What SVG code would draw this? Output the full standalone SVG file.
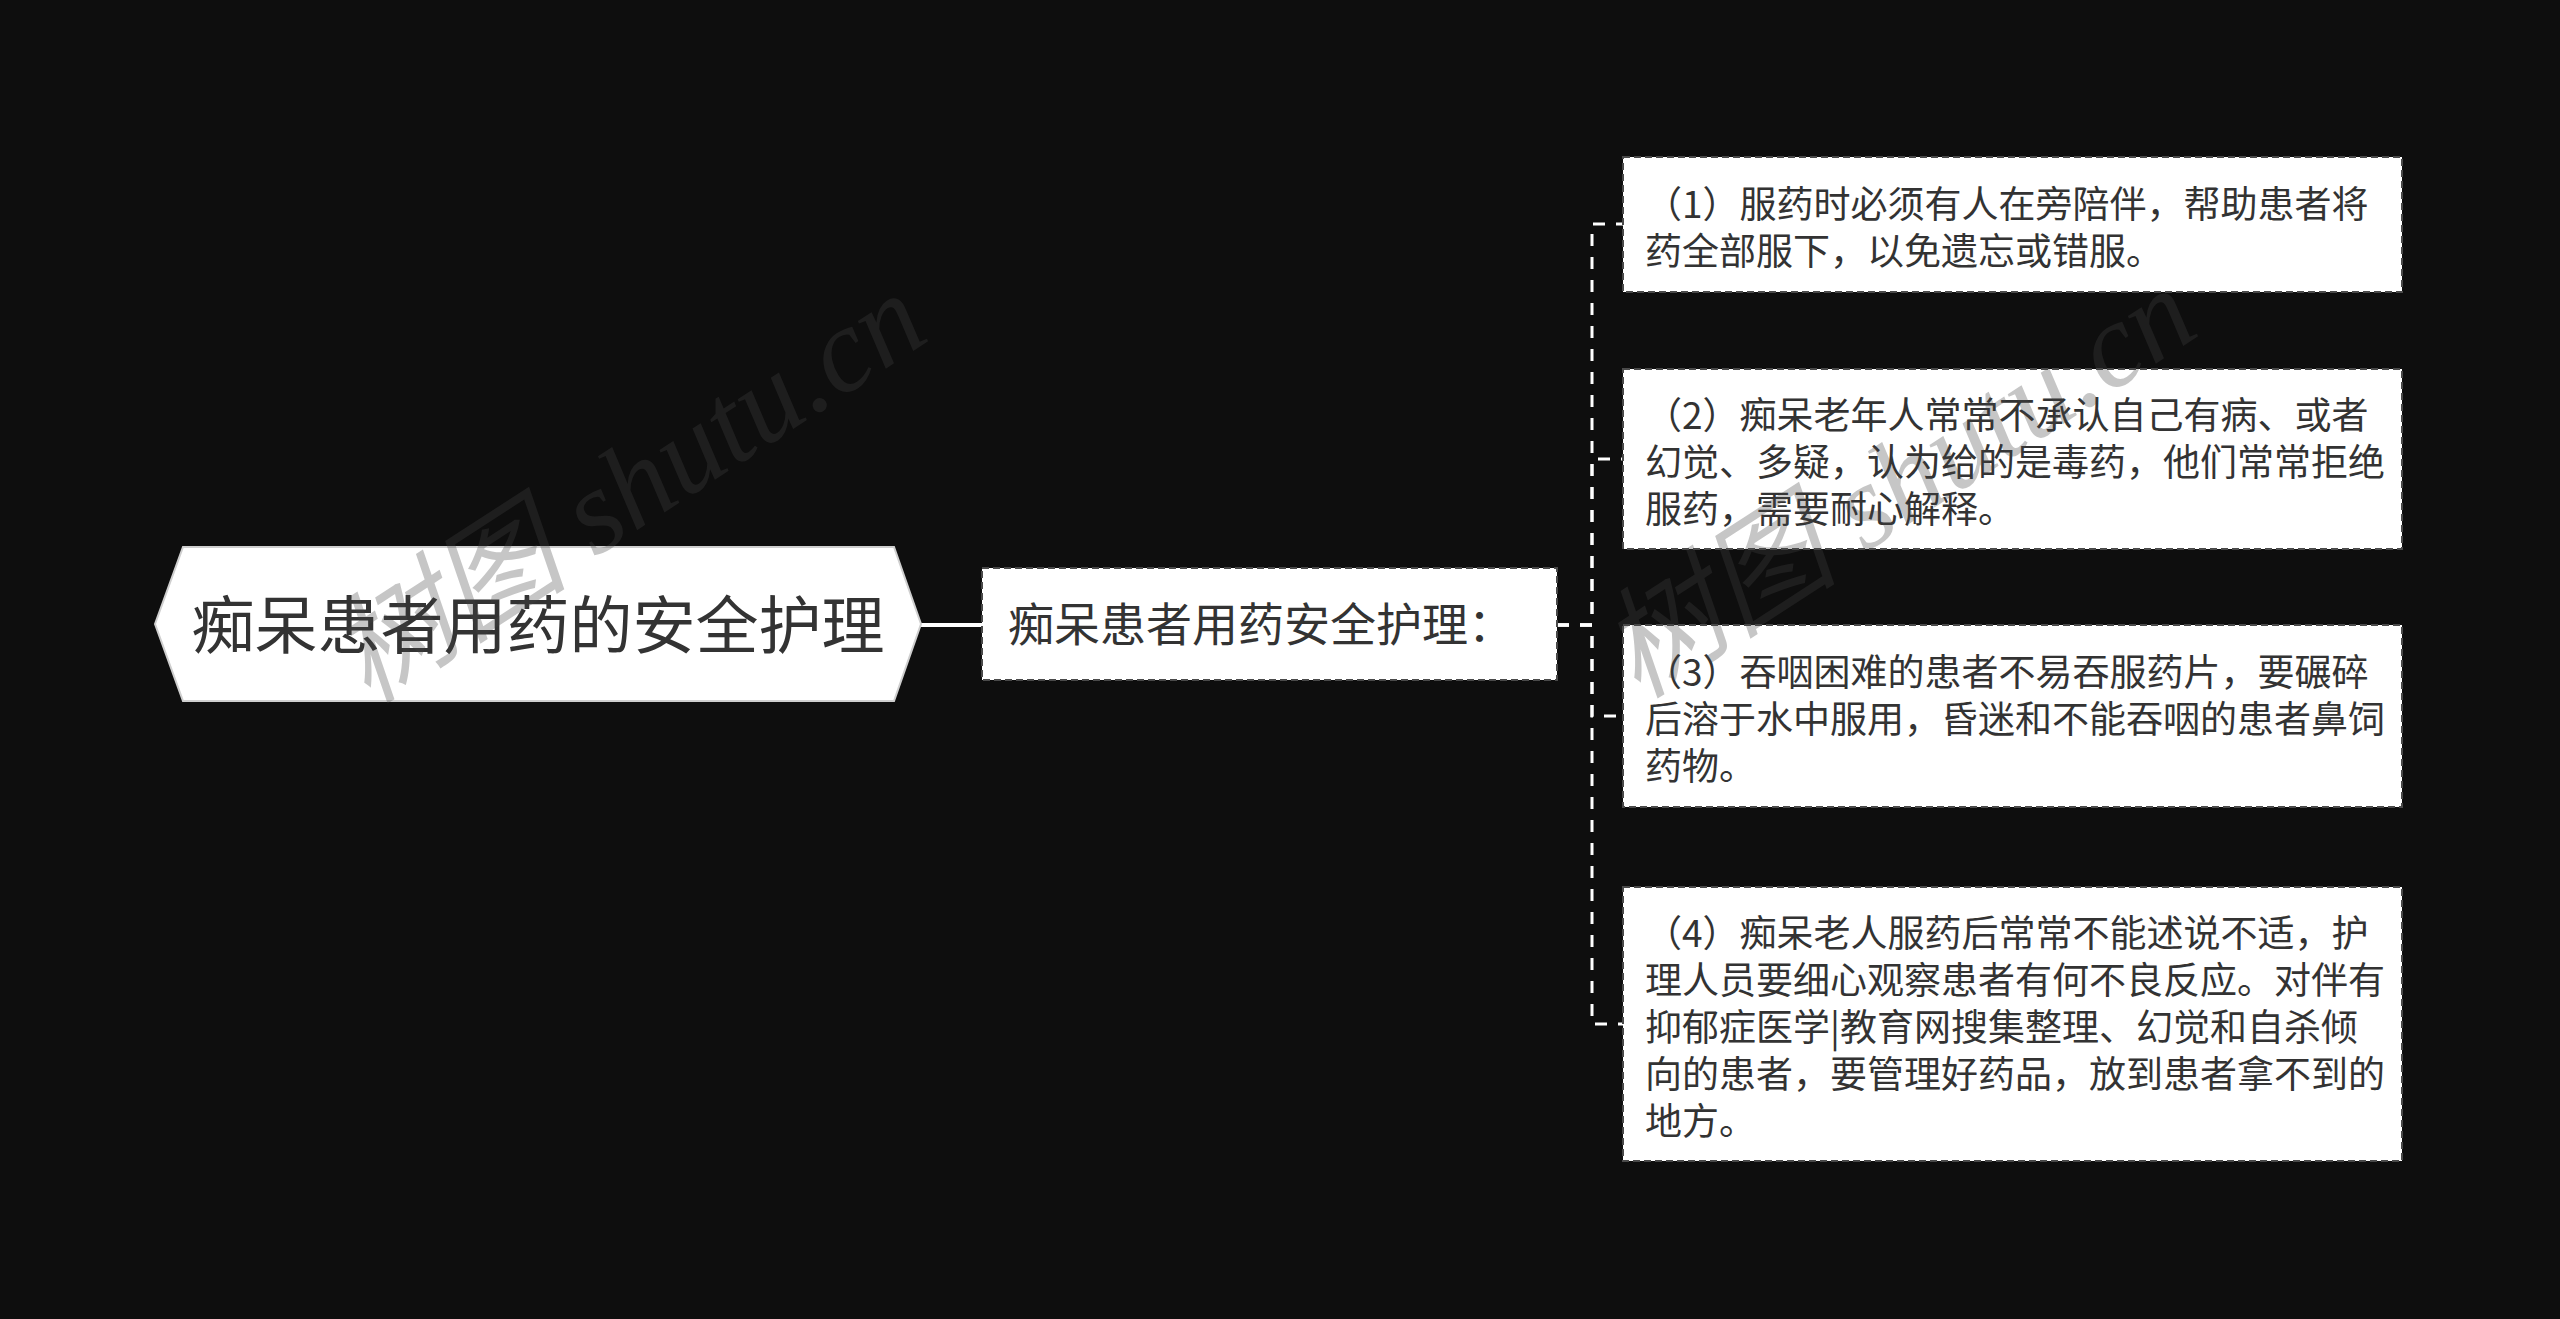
<svg xmlns="http://www.w3.org/2000/svg" width="2560" height="1319" viewBox="0 0 2560 1319">
<style>
.bg{fill:#0e0e0e}
.root{fill:#ffffff;stroke:#cfcfcf;stroke-width:2}
.box{fill:#ffffff;stroke:#4a4a4a;stroke-width:2;stroke-dasharray:7 4}
.t{font-family:"Noto Sans CJK SC","Noto Sans",sans-serif;fill:#333333}
.rt{font-size:63px}
.mt{font-size:46px}
.lt{font-size:37px}
.solid{fill:none;stroke:#ffffff;stroke-width:4}
.dash{fill:none;stroke:#ffffff;stroke-width:3;stroke-dasharray:12 11}
.wm{font-family:"Liberation Serif","Noto Sans CJK SC",serif;font-style:italic;font-size:120px;fill:#444444;opacity:0.3}
</style>
<rect class="bg" x="0" y="0" width="2560" height="1319"/>
<g id="connectors">
<line class="solid" x1="918" y1="625" x2="982" y2="625"/>
<path class="dash" d="M1557,625 H1592 V224 H1623"/>
<path class="dash" d="M1557,625 H1592 V459 H1623"/>
<path class="dash" d="M1557,625 H1592 V716 H1623"/>
<path class="dash" d="M1557,625 H1592 V1024 H1623"/>
</g>
<g id="root">
<polygon class="root" points="155,624 183,547 894,547 921,624 894,701 183,701"/>
<text class="t rt" x="538" y="648" text-anchor="middle">痴呆患者用药的安全护理</text>
</g>
<g id="middle">
<rect class="box" x="982" y="568" width="575" height="112"/>
<text class="t mt" x="1008" y="641">痴呆患者用药安全护理：</text>
</g>
<g id="leaf1">
<rect class="box" x="1623" y="157" width="779" height="135"/>
<text class="t lt" x="1645" y="218">（1）服药时必须有人在旁陪伴，帮助患者将</text>
<text class="t lt" x="1645" y="265">药全部服下，以免遗忘或错服。</text>
</g>
<g id="leaf2">
<rect class="box" x="1623" y="369" width="779" height="180"/>
<text class="t lt" x="1645" y="429">（2）痴呆老年人常常不承认自己有病、或者</text>
<text class="t lt" x="1645" y="476">幻觉、多疑，认为给的是毒药，他们常常拒绝</text>
<text class="t lt" x="1645" y="523">服药，需要耐心解释。</text>
</g>
<g id="leaf3">
<rect class="box" x="1623" y="625" width="779" height="182"/>
<text class="t lt" x="1645" y="686">（3）吞咽困难的患者不易吞服药片，要碾碎</text>
<text class="t lt" x="1645" y="733">后溶于水中服用，昏迷和不能吞咽的患者鼻饲</text>
<text class="t lt" x="1645" y="780">药物。</text>
</g>
<g id="leaf4">
<rect class="box" x="1623" y="887" width="779" height="274"/>
<text class="t lt" x="1645" y="947">（4）痴呆老人服药后常常不能述说不适，护</text>
<text class="t lt" x="1645" y="994">理人员要细心观察患者有何不良反应。对伴有</text>
<text class="t lt" x="1645" y="1041">抑郁症医学|教育网搜集整理、幻觉和自杀倾</text>
<text class="t lt" x="1645" y="1088">向的患者，要管理好药品，放到患者拿不到的</text>
<text class="t lt" x="1645" y="1135">地方。</text>
</g>
<g id="watermark">
<text class="wm" x="368" y="705" transform="rotate(-33 368 705)">树图 shutu.cn</text>
<text class="wm" x="1638" y="700" transform="rotate(-33 1638 700)">树图 shutu.cn</text>
</g>
</svg>
